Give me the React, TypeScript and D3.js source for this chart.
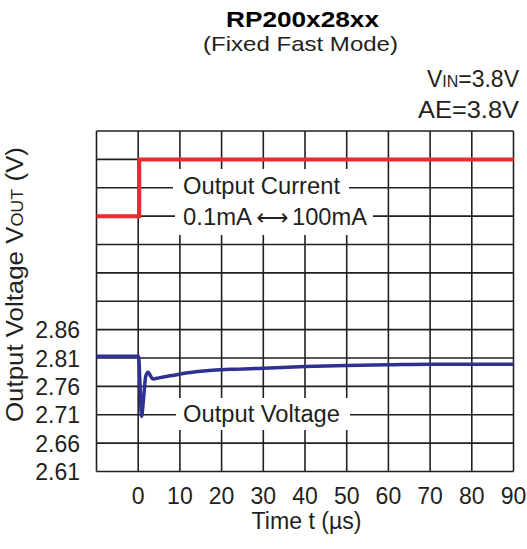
import React from "react";
import * as d3 from "d3";

const timeTicks = [0, 10, 20, 30, 40, 50, 60, 70, 80, 90];
const voltTicks = [2.61, 2.66, 2.71, 2.76, 2.81, 2.86];
const gridTimes = [-10, 0, 10, 20, 30, 40, 50, 60, 70, 80, 90];
const gridVolts = [2.61, 2.66, 2.71, 2.76, 2.81, 2.86, 2.91, 2.96, 3.01, 3.06, 3.11, 3.16, 3.21];

const voltTimes = [-10, 0.1, 0.45, 0.8, 1.3, 1.8, 2.4, 3.0, 3.5, 5, 8, 12, 17, 22, 30, 40, 50, 60, 70, 80, 90];
const voltValues = [2.813, 2.813, 2.76, 2.707, 2.74, 2.778, 2.785, 2.778, 2.773, 2.775, 2.779, 2.784, 2.788, 2.79, 2.792, 2.795, 2.797, 2.798, 2.799, 2.799, 2.799];

const currTimes = [-10, 0.25, 0.25, 90];
const currValues = [0.1, 0.1, 100, 100];

const FONT = "'Liberation Sans', Arial, Helvetica, sans-serif";
const INK = "#231f20";

export default function App() {
  const W = 527, H = 549;
  const x = d3.scaleLinear().domain([-10, 90]).range([96.5, 513.5]);
  const y = d3.scaleLinear().domain([2.61, 3.21]).range([471.5, 131]);
  const yc = d3.scaleLinear().domain([0.1, 100]).range([y(3.06), y(3.16)]);

  const vLine = d3.line<number>()
    .x((_, i) => x(voltTimes[i]))
    .y((d) => y(d))
    .curve(d3.curveMonotoneX)(voltValues) as string;
  const cLine = d3.line<number>()
    .x((_, i) => x(currTimes[i]))
    .y((d) => yc(d))(currValues) as string;

  return (
    <svg width={W} height={H} style={{ position: "absolute", left: 0, top: 0, background: "#fff" }} fontFamily={FONT}>
      <rect x={0} y={0} width={W} height={H} fill="#fff" />
      {gridTimes.map((t) => (
        <line key={"gx" + t} x1={x(t)} x2={x(t)} y1={y(3.21)} y2={y(2.61)} stroke={INK} strokeWidth={1.6} />
      ))}
      {gridVolts.map((v) => (
        <line key={"gy" + v} x1={x(-10)} x2={x(90)} y1={y(v)} y2={y(v)} stroke={INK} strokeWidth={1.6} />
      ))}
      {/* annotation backgrounds */}
      <rect x={173} y={169} width={176} height={34} fill="#fff" />
      <rect x={175} y={203} width={198} height={32} fill="#fff" />
      <rect x={176} y={398} width={174} height={32} fill="#fff" />

      <path d={cLine} fill="none" stroke="#ec2a2f" strokeWidth={4} />
      <path d={vLine} fill="none" stroke="#2e3192" strokeWidth={3.5} strokeLinejoin="round" />

      <g fontSize={23} fill={INK}>
        <text x={183} y={194} textLength={157} lengthAdjust="spacingAndGlyphs">Output Current</text>
        <text x={183} y={225} textLength={69} lengthAdjust="spacingAndGlyphs">0.1mA</text>
        <text x={256.5} y={225} fontFamily="'DejaVu Sans', sans-serif" textLength={32} lengthAdjust="spacingAndGlyphs">⟷</text>
        <text x={292} y={225} textLength={75} lengthAdjust="spacingAndGlyphs">100mA</text>
        <text x={183} y={422} textLength={157} lengthAdjust="spacingAndGlyphs">Output Voltage</text>
      </g>

      {timeTicks.map((t) => (
        <text key={"tx" + t} x={x(t)} y={504} textAnchor="middle" fontSize={23} fill={INK}>{t}</text>
      ))}
      {voltTicks.map((v) => (
        <text key={"ty" + v} x={80} y={y(v) + 8.5} textAnchor="end" fontSize={23} fill={INK}>{v.toFixed(2)}</text>
      ))}

      <text x={306.5} y={529} textAnchor="middle" fontSize={23} fill={INK} textLength={110} lengthAdjust="spacingAndGlyphs">Time t (µs)</text>

      <text transform="translate(23,284.5) rotate(-90)" textAnchor="middle" fontSize={23} fill={INK} textLength={275} lengthAdjust="spacingAndGlyphs">
        Output Voltage V<tspan fontSize={16}>OUT</tspan> (V)
      </text>

      <text x={302.5} y={27} textAnchor="middle" fontSize={22} fontWeight="bold" fill="#000" textLength={153} lengthAdjust="spacingAndGlyphs">RP200x28xx</text>
      <text x={300.5} y={51} textAnchor="middle" fontSize={21} fill={INK} textLength={195} lengthAdjust="spacingAndGlyphs">(Fixed Fast Mode)</text>

      <text x={519} y={87} textAnchor="end" fontSize={23} fill={INK}>
        V<tspan fontSize={16}>IN</tspan>=3.8V
      </text>
      <text x={519} y={118} textAnchor="end" fontSize={23} fill={INK} textLength={101} lengthAdjust="spacingAndGlyphs">AE=3.8V</text>
    </svg>
  );
}
